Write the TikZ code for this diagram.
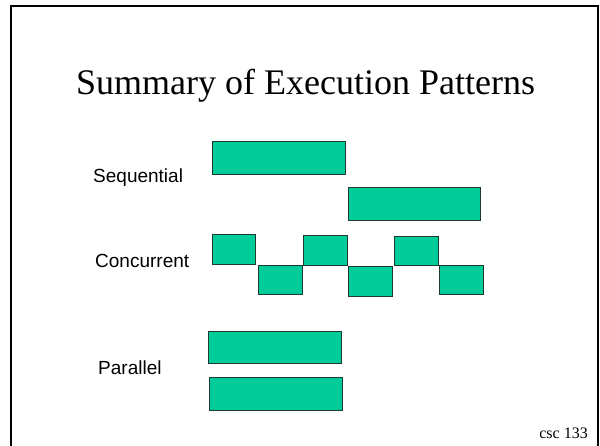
\documentclass[tikz,border=0pt]{standalone}
\usepackage{fontspec}
\setmainfont{Liberation Serif}
\newfontfamily\labelfont{Liberation Sans}
\definecolor{taskfill}{HTML}{00CC99}
\definecolor{taskedge}{HTML}{1E3A30}
\tikzset{
  task/.style={draw=taskedge, line width=0.9pt, fill=taskfill, inner sep=0pt, anchor=north west},
  rowlabel/.style={font=\labelfont\fontsize{19}{22}\selectfont, anchor=base west, inner sep=0pt},
}
\begin{document}
\begin{tikzpicture}[x=1pt,y=-1pt]
\useasboundingbox (0,0) rectangle (600,446);
% slide frame, open at the bottom
\draw[line width=2pt] (11,450) -- (11,6) -- (597.5,6) -- (597.5,450);
% title
\node[font=\fontsize{36}{40}\selectfont, anchor=base, inner sep=0pt] (title) at (305.5,95) {Summary of Execution Patterns};
% row labels
\node[rowlabel] (seq) at (93,183) {Sequential};
\node[rowlabel] (conc) at (95,268) {Concurrent};
\node[rowlabel] (par) at (98,375) {Parallel};
% sequential
\node[task, minimum width=133pt, minimum height=33pt] (s1) at (212,141) {};
\node[task, minimum width=132pt, minimum height=33pt] (s2) at (348,187) {};
% concurrent
\node[task, minimum width=43pt, minimum height=30pt] (c1) at (212,234) {};
\node[task, minimum width=44pt, minimum height=29pt] (c2) at (258,265) {};
\node[task, minimum width=44pt, minimum height=30pt] (c3) at (303,235) {};
\node[task, minimum width=44pt, minimum height=30pt] (c4) at (348,266) {};
\node[task, minimum width=44pt, minimum height=29pt] (c5) at (394,236) {};
\node[task, minimum width=44pt, minimum height=29pt] (c6) at (439,265) {};
% parallel
\node[task, minimum width=133pt, minimum height=32pt] (p1) at (208,331) {};
\node[task, minimum width=133pt, minimum height=33pt] (p2) at (209,377) {};
% footer
\node[font=\fontsize{16}{18}\selectfont, anchor=base east, inner sep=0pt] (foot) at (588,438) {csc 133};
\end{tikzpicture}
\end{document}
